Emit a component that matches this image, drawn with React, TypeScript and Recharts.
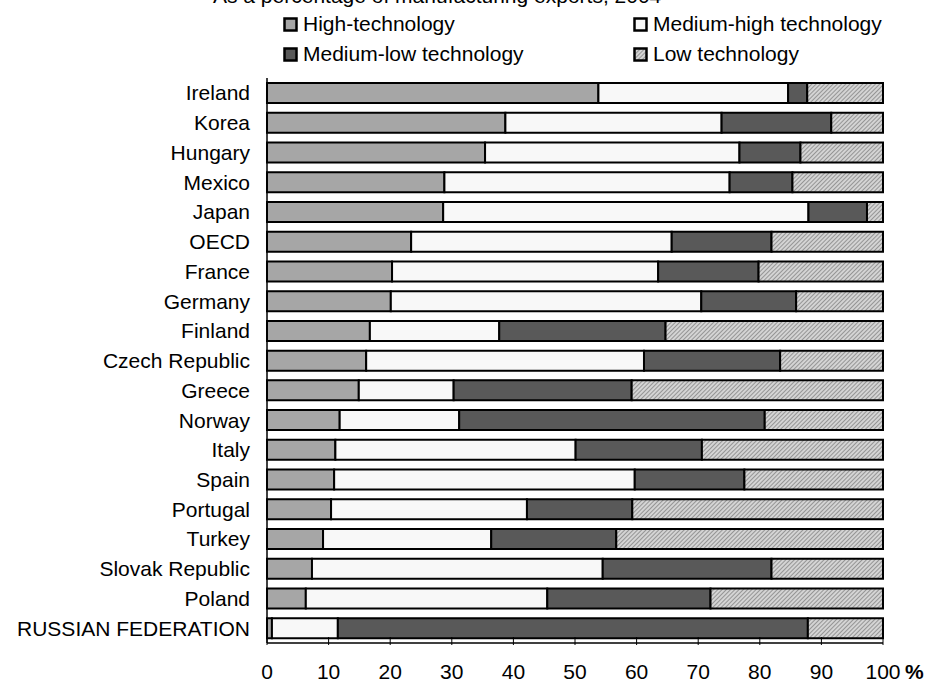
import { BarChart, Bar, XAxis, YAxis } from "recharts";

const countries = [
  "Ireland",
  "Korea",
  "Hungary",
  "Mexico",
  "Japan",
  "OECD",
  "France",
  "Germany",
  "Finland",
  "Czech Republic",
  "Greece",
  "Norway",
  "Italy",
  "Spain",
  "Portugal",
  "Turkey",
  "Slovak Republic",
  "Poland",
  "RUSSIAN FEDERATION",
];

const highTech = [53.8, 38.7, 35.4, 28.8, 28.6, 23.4, 20.3, 20.1, 16.7, 16.1, 14.9, 11.8, 11.1, 10.9, 10.4, 9.1, 7.3, 6.3, 0.8];
const mediumHighTech = [30.8, 35.1, 41.3, 46.3, 59.3, 42.3, 43.2, 50.4, 21.0, 45.1, 15.4, 19.4, 39.0, 48.8, 31.8, 27.3, 47.2, 39.2, 10.7];
const mediumLowTech = [3.1, 17.8, 9.9, 10.2, 9.5, 16.2, 16.3, 15.4, 27.0, 22.1, 28.9, 49.6, 20.5, 17.8, 17.1, 20.3, 27.4, 26.5, 76.3];
const lowTech = [12.3, 8.4, 13.4, 14.7, 2.6, 18.1, 20.2, 14.1, 35.3, 16.7, 40.8, 19.2, 29.4, 22.5, 40.7, 43.3, 18.1, 28.0, 12.2];

const xTicks = [0, 10, 20, 30, 40, 50, 60, 70, 80, 90, 100];

const seriesNames = ["High-technology", "Medium-high technology", "Medium-low technology", "Low technology"];
const seriesFills = ["#a6a6a6", "#f8f8f8", "#595959", "url(#lowHatch)"];

const title = "As a percentage of manufacturing exports, 2004";

const data = countries.map((c, i) => ({
  country: c,
  high: highTech[i],
  mediumHigh: mediumHighTech[i],
  mediumLow: mediumLowTech[i],
  low: lowTech[i],
}));

const FONT = '"Liberation Sans", Arial, sans-serif';
const FS = 21;

function CountryTick(props: any) {
  const { x, y, payload } = props;
  return (
    <text x={x} y={y} dy="0.36em" textAnchor="end" fontSize={FS} fontFamily={FONT} fill="#000">
      {payload.value}
    </text>
  );
}

function PercentTick(props: any) {
  const { x, y, payload } = props;
  return (
    <g>
      <line x1={x} x2={x} y1={y - 6} y2={y + 2} stroke="#000" strokeWidth={1} />
      <text x={x} y={y + 36} textAnchor="middle" fontSize={FS} fontFamily={FONT} fill="#000">
        {payload.value}
      </text>
      {payload.value === 100 && (
        <text x={x + 22} y={y + 36} textAnchor="start" fontSize={FS} fontWeight="bold" fontFamily={FONT} fill="#000">
          %
        </text>
      )}
    </g>
  );
}

function LegendBox({ fill }: { fill: string }) {
  return (
    <svg width={15} height={15} style={{ display: "block" }}>
      <rect x={1.5} y={1.5} width={12} height={12} fill={fill} stroke="#000" strokeWidth={2.5} />
    </svg>
  );
}

export default function App() {
  const legendPos = [
    { left: 283, top: 13 },
    { left: 633, top: 13 },
    { left: 283, top: 43 },
    { left: 633, top: 43 },
  ];

  return (
    <div style={{ position: "absolute", left: 0, top: 0, width: 928, height: 684, background: "#fff", overflow: "hidden", fontFamily: FONT }}>
      {/* pattern used by the low-technology bars */}
      <svg width={0} height={0} style={{ position: "absolute" }}>
        <defs>
          <pattern id="lowHatch" patternUnits="userSpaceOnUse" width={3} height={3} patternTransform="rotate(45)">
            <rect width={3} height={3} fill="#d4d4d4" />
            <line x1={0} y1={0} x2={0} y2={3} stroke="#6a6a6a" strokeWidth={1.2} />
          </pattern>
        </defs>
      </svg>

      <div style={{ position: "absolute", left: 213, top: -16, fontSize: FS, lineHeight: "24px", color: "#000", whiteSpace: "nowrap" }}>
        {title}
      </div>

      {seriesNames.map((name, i) => (
        <div key={name} style={{ position: "absolute", left: legendPos[i].left, top: legendPos[i].top, display: "flex", alignItems: "center", fontSize: FS, lineHeight: "22px", whiteSpace: "nowrap" }}>
          <LegendBox fill={seriesFills[i]} />
          <span style={{ marginLeft: 5 }}>{name}</span>
        </div>
      ))}

      <div style={{ position: "absolute", left: 0, top: 0 }}>
        <BarChart width={928} height={684} data={data} layout="vertical" barSize={20} margin={{ top: 78, right: 45, bottom: 0, left: 0 }}>
          <XAxis
            type="number"
            domain={[0, 100]}
            ticks={xTicks}
            interval={0}
            height={41}
            tickSize={0}
            tickMargin={0}
            tick={<PercentTick />}
            axisLine={{ stroke: "#000", strokeWidth: 1.5 }}
          />
          <XAxis xAxisId="top" orientation="top" type="number" domain={[0, 100]} height={0} tick={false} tickLine={false} axisLine={{ stroke: "#999" }} />
          <YAxis
            type="category"
            dataKey="country"
            width={267}
            tickSize={0}
            tickMargin={17}
            tick={<CountryTick />}
            interval={0}
            axisLine={{ stroke: "#000", strokeWidth: 1.5 }}
          />
          <YAxis yAxisId="right" orientation="right" type="category" dataKey="country" width={0} tick={false} tickLine={false} axisLine={{ stroke: "#999" }} />
          <Bar dataKey="high" stackId="a" fill={seriesFills[0]} stroke="#000" strokeWidth={2} isAnimationActive={false} />
          <Bar dataKey="mediumHigh" stackId="a" fill={seriesFills[1]} stroke="#000" strokeWidth={2} isAnimationActive={false} />
          <Bar dataKey="mediumLow" stackId="a" fill={seriesFills[2]} stroke="#000" strokeWidth={2} isAnimationActive={false} />
          <Bar dataKey="low" stackId="a" fill={seriesFills[3]} stroke="#000" strokeWidth={2} isAnimationActive={false} />
        </BarChart>
      </div>
    </div>
  );
}
